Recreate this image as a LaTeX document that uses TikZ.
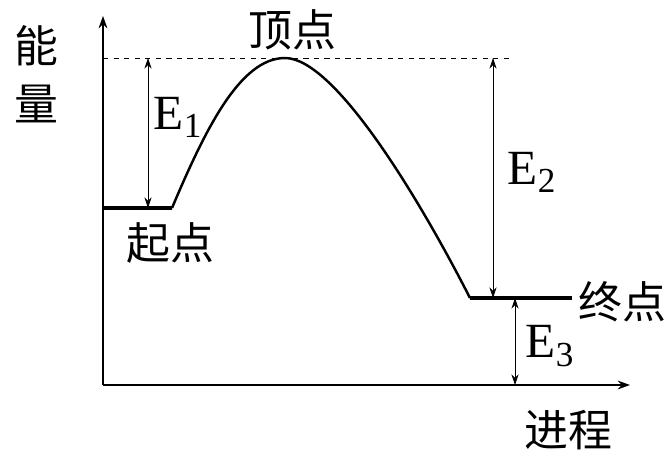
\documentclass[tikz,border=0pt]{standalone}
\usepackage{fontspec}
\setmainfont{Liberation Serif}
\newfontfamily\cjk{Noto Sans CJK SC}
\usetikzlibrary{arrows.meta}
\begin{document}
\begin{tikzpicture}[x=0.02cm,y=-0.02cm,
      axis/.style={-{Stealth[length=7pt,width=5pt]}, thick},
      level/.style={line width=2pt},
      dim/.style={{Stealth[length=6pt,width=4pt]}-{Stealth[length=6pt,width=4pt]}},
      zh/.style={font=\cjk\fontsize{25}{27}\selectfont},
      en/.style={font=\fontsize{28}{30}\selectfont}
    ]
      \useasboundingbox (0,0) rectangle (672,460);
      % axes
      \coordinate (origin) at (103,385);
      \coordinate (ytip) at (103,16);
      \coordinate (xtip) at (630,385);
      \draw[axis] (origin) -- (ytip);
      \draw[axis] (origin) -- (xtip);
      \node[zh, align=center] (energy) at (36,74) {能\\[6pt]量};
      \node[zh] (progress) at (568,430) {进程};

      % levels and curve
      \coordinate (s0) at (103,208);
      \coordinate (s1) at (172,208);
      \coordinate (peak) at (285,58);
      \coordinate (e0) at (470,298);
      \coordinate (e1) at (572,298);
      \coordinate (dashend) at (510,58);
      \draw[dashed] (ytip |- peak) -- (dashend);
      \draw[level] (s0) -- (s1);
      \draw[level] (e0) -- (e1);
      \draw[line width=1.4pt] (s1) .. controls (205,130) and (240,58) .. (peak)
        .. controls (335,58) and (420,200) .. (e0);

      % labels
      \node[zh] (top) at (292,30) {顶点};
      \node[zh] (start) at (170,243) {起点};
      \node[zh] (final) at (622,302) {终点};

      % energy differences
      \coordinate (a1) at (148,58);
      \coordinate (b1) at (148,208);
      \draw[dim] (a1) -- (b1);
      \node[en] (E1) at (178,117) {E\textsubscript{\fontsize{20}{22}\selectfont 1}};
      \coordinate (a2) at (493,58);
      \coordinate (b2) at (493,298);
      \draw[dim] (a2) -- (b2);
      \node[en] (E2) at (532,172) {E\textsubscript{\fontsize{20}{22}\selectfont 2}};
      \coordinate (a3) at (515,298);
      \coordinate (b3) at (515,385);
      \draw[dim] (a3) -- (b3);
      \node[en] (E3) at (550,346) {E\textsubscript{\fontsize{20}{22}\selectfont 3}};
\end{tikzpicture}
\end{document}
